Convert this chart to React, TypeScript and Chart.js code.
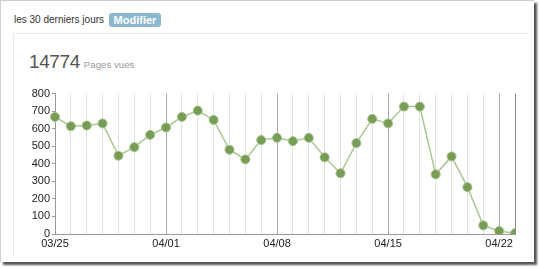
import React, { useEffect, useRef } from "react";
import { Chart, registerables } from "chart.js";

Chart.register(...registerables);

const dates: string[] = [
  "03/25", "03/26", "03/27", "03/28", "03/29", "03/30", "03/31",
  "04/01", "04/02", "04/03", "04/04", "04/05", "04/06", "04/07",
  "04/08", "04/09", "04/10", "04/11", "04/12", "04/13", "04/14",
  "04/15", "04/16", "04/17", "04/18", "04/19", "04/20", "04/21",
  "04/22", "04/23",
];
const pageViews: number[] = [
  667, 614, 618, 630, 446, 495, 565,
  607, 667, 703, 650, 480, 425, 535,
  548, 529, 548, 437, 346, 518, 656,
  630, 726, 726, 340, 442, 267, 49,
  17, 4,
];
const shownLabels: string[] = ["03/25", "04/01", "04/08", "04/15", "04/22"];
const yTicks: number[] = [0, 100, 200, 300, 400, 500, 600, 700, 800];
const totalViews = "14774";

export default function App() {
  const ref = useRef<HTMLCanvasElement | null>(null);

  useEffect(() => {
    if (!ref.current) return;
    const chart = new Chart(ref.current, {
      type: "line",
      data: {
        labels: dates,
        datasets: [
          {
            data: pageViews,
            borderColor: "#a9c891",
            borderWidth: 1.5,
            backgroundColor: "#779c56",
            pointBackgroundColor: "#779c56",
            pointBorderColor: "#a3c189",
            pointBorderWidth: 1,
            pointRadius: 4.5,
            tension: 0,
            fill: false,
            clip: { left: 6, top: 6, right: 0, bottom: 0 } as any,
          },
        ],
      },
      options: {
        animation: false,
        responsive: false,
        maintainAspectRatio: false,
        layout: { padding: { top: 8, right: 10, left: 0, bottom: 0 } },
        plugins: {
          legend: { display: false },
          tooltip: { enabled: false },
          title: { display: false },
        },
        scales: {
          x: {
            type: "category",
            offset: false,
            afterFit: (s: any) => {
              s.height = 21;
            },
            grid: {
              display: true,
              drawTicks: false,
              color: (ctx: any) => {
                const l = dates[ctx.index];
                if (ctx.index === dates.length - 1) return "#8a8a8a";
                return shownLabels.includes(l) ? "#a8a8a8" : "#e2e2e2";
              },
              lineWidth: 1,
            },
            border: { display: true, color: "#999999" },
            ticks: {
              autoSkip: false,
              maxRotation: 0,
              minRotation: 0,
              padding: 3,
              color: "#222222",
              font: { family: "Arial, 'Liberation Sans'", size: 11 },
              callback: (_v: any, i: number) =>
                shownLabels.includes(dates[i]) ? dates[i] : "",
            },
          },
          y: {
            min: 0,
            max: 800,
            afterFit: (s: any) => {
              s.width = 35;
            },
            afterBuildTicks: (s: any) => {
              s.ticks = yTicks.map((v) => ({ value: v }));
            },
            grid: {
              drawOnChartArea: false,
              drawTicks: true,
              tickLength: 3,
              tickColor: "#999999",
            },
            border: { display: true, color: "#999999" },
            ticks: {
              padding: 2,
              color: "#222222",
              font: { family: "Arial, 'Liberation Sans'", size: 11 },
            },
          },
        },
      },
    });
    return () => chart.destroy();
  }, []);

  const font = "Arial, 'Liberation Sans', sans-serif";

  return (
    <div
      style={{
        position: "absolute",
        left: 0,
        top: 0,
        width: 540,
        height: 269,
        background: "#ffffff",
        overflow: "hidden",
        fontFamily: font,
      }}
    >
      {/* outer frame */}
      <div
        style={{
          position: "absolute",
          left: 0,
          top: 0,
          width: 533,
          height: 261,
          borderTop: "1px solid #cfcfcf",
          borderLeft: "1px solid #cfcfcf",
          boxShadow: "3px 3px 2px #555",
          background: "#fff",
        }}
      />
      <div
        style={{
          position: "absolute",
          left: 14,
          top: 14,
          fontSize: 10,
          color: "#333",
          lineHeight: "12px",
        }}
      >
        les 30 derniers jours
      </div>
      <div
        style={{
          position: "absolute",
          left: 109,
          top: 13,
          width: 52,
          height: 14,
          background: "#8cb9d2",
          borderRadius: 3,
          color: "#fff",
          fontWeight: "bold",
          fontSize: 11,
          lineHeight: "14px",
          textAlign: "center",
        }}
      >
        Modifier
      </div>
      {/* inner panel */}
      <div
        style={{
          position: "absolute",
          left: 13,
          top: 33,
          width: 515,
          height: 222,
          borderTop: "1px solid #dde9f4",
          borderLeft: "1px solid #dde9f4",
        }}
      />
      <div
        style={{
          position: "absolute",
          left: 29,
          top: 51,
          fontSize: 19,
          letterSpacing: -0.4,
          color: "#555",
          lineHeight: "22px",
          whiteSpace: "nowrap",
        }}
      >
        {totalViews}
        <span
          style={{
            fontSize: 9.7,
            letterSpacing: 0,
            color: "#999",
            marginLeft: 4,
          }}
        >
          Pages vues
        </span>
      </div>
      <canvas
        ref={ref}
        width={505}
        height={170}
        style={{
          position: "absolute",
          left: 20,
          top: 85,
          width: 505,
          height: 170,
        }}
      />
    </div>
  );
}
